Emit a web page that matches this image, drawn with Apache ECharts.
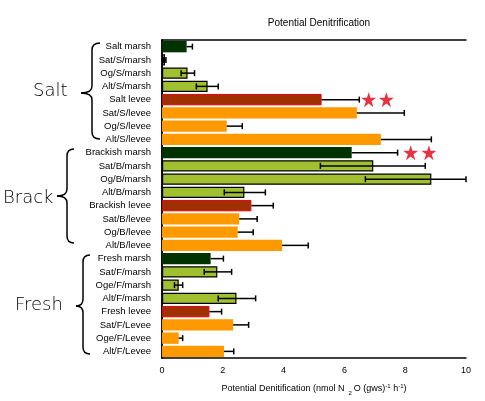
<!DOCTYPE html>
<html>
<head>
<meta charset="utf-8">
<script src="https://cdn.jsdelivr.net/npm/echarts@6/dist/echarts.min.js"></script>
<style>
  html, body { margin: 0; padding: 0; background: #fff; }
  #chart { width: 485px; height: 401px; }
</style>
</head>
<body>
<div id="chart"></div>
<script>
var categories = [
  'Salt marsh', 'Sat/S/marsh', 'Og/S/marsh', 'Alt/S/marsh',
  'Salt levee', 'Sat/S/levee', 'Og/S/levee', 'Alt/S/levee',
  'Brackish marsh', 'Sat/B/marsh', 'Og/B/marsh', 'Alt/B/marsh',
  'Brackish levee', 'Sat/B/levee', 'Og/B/levee', 'Alt/B/levee',
  'Fresh marsh', 'Sat/F/marsh', 'Oge/F/marsh', 'Alt/F/marsh',
  'Fresh levee', 'Sat/F/Levee', 'Oge/F/Levee', 'Alt/F/Levee'
];
var denitValues = [
  0.81, 0.10, 0.84, 1.50, 5.25, 6.41, 2.13, 7.20,
  6.24, 6.95, 8.86, 2.71, 2.94, 2.54, 2.49, 3.95,
  1.60, 1.82, 0.55, 2.45, 1.56, 2.34, 0.55, 2.04
];
var errLow = [
  0.81, 0.06, 0.63, 1.13, 5.25, 6.41, 2.13, 7.20,
  6.24, 5.21, 6.69, 2.05, 2.94, 2.54, 2.49, 3.95,
  1.60, 1.39, 0.41, 1.85, 1.56, 2.34, 0.55, 2.04
];
var errHigh = [
  1.00, 0.13, 1.07, 1.85, 6.49, 7.97, 2.64, 8.86,
  7.75, 8.66, 10.0, 3.40, 3.66, 3.13, 3.00, 4.81,
  2.02, 2.29, 0.68, 3.08, 1.96, 2.85, 0.68, 2.36
];
var starX = [6.80, 7.38, 8.18, 8.78];
var starCat = ['Salt levee', 'Salt levee', 'Brackish marsh', 'Brackish marsh'];
var groupNames = ['Salt', 'Brack', 'Fresh'];

var DARK = '#003300', GREEN = '#a0c030', BROWN = '#a03000', ORANGE = '#ff9900';

function barStyle(name) {
  var main = /^(Salt|Brackish|Fresh) /.test(name);
  var marsh = /marsh/i.test(name);
  if (main && marsh) return { color: DARK };
  if (main) return { color: BROWN, borderColor: '#e00010', borderWidth: 1 };
  if (marsh) return { color: GREEN, borderColor: '#000', borderWidth: 1.2 };
  return { color: ORANGE };
}

var barData = denitValues.map(function (v, i) {
  return { value: v, itemStyle: barStyle(categories[i]) };
});
var errData = categories.map(function (c, i) {
  return [i, errLow[i], errHigh[i], denitValues[i]];
});
var starData = starX.map(function (x, i) { return [x, starCat[i]]; });

var chart = echarts.init(document.getElementById('chart'), null, { renderer: 'canvas' });
var font = 'Liberation Sans';

// curly brace: hooks at (x0,y0) and (x0,y1), spine at xv, tip at (xt,ym)
function brace(x0, xv, xt, y0, ym, y1) {
  var r = 7;
  var st = { stroke: '#000', lineWidth: 1.5, fill: null };
  return {
    type: 'group',
    children: [
      { type: 'bezierCurve', shape: { x1: x0, y1: y0, cpx1: xv, cpy1: y0, x2: xv, y2: y0 + r }, style: st },
      { type: 'line', shape: { x1: xv, y1: y0 + r, x2: xv, y2: ym - r }, style: st },
      { type: 'bezierCurve', shape: { x1: xv, y1: ym - r, cpx1: xv, cpy1: ym, x2: xt, y2: ym }, style: st },
      { type: 'bezierCurve', shape: { x1: xt, y1: ym, cpx1: xv, cpy1: ym, x2: xv, y2: ym + r }, style: st },
      { type: 'line', shape: { x1: xv, y1: ym + r, x2: xv, y2: y1 - r }, style: st },
      { type: 'bezierCurve', shape: { x1: xv, y1: y1 - r, cpx1: xv, cpy1: y1, x2: x0, y2: y1 }, style: st }
    ]
  };
}

function groupLabel(text, x, y) {
  return { type: 'text', left: x, top: y,
    style: { text: text, font: '200 18px "DejaVu Sans"', fill: '#000' } };
}

var option = {
  backgroundColor: '#fff',
  animation: false,
  title: {
    text: 'Potential Denitrification',
    left: 314, top: 13, textAlign: 'center',
    textStyle: { fontFamily: font, fontSize: 10, fontWeight: 'normal', color: '#000' }
  },
  grid: { left: 162, right: 19, top: 40, bottom: 43 },
  xAxis: [{
    type: 'value', min: 0, max: 10, interval: 2,
    name: '{t|Potential Denitification (nmol N}{sub|2}{t|O (gws)}{sup|-1}{t| h}{sup|-1}{t|)}',
    nameLocation: 'middle', nameGap: 24,
    nameTextStyle: {
      rich: {
        t: { fontFamily: font, fontSize: 9, color: '#000' },
        sub: { fontFamily: font, fontSize: 6, color: '#000', padding: [8, 2, 0, 4] },
        sup: { fontFamily: font, fontSize: 6, color: '#000', padding: [0, 0, 6, 0] }
      }
    },
    axisLine: { show: true, lineStyle: { color: '#000', width: 1.5 } },
    axisTick: { inside: true, length: 4, lineStyle: { color: '#000', width: 1.5 } },
    axisLabel: { fontFamily: font, fontSize: 9, color: '#000', margin: 8 },
    splitLine: { show: false }
  }, {
    type: 'value', min: 0, max: 10, interval: 2, position: 'top',
    axisLine: { show: true, lineStyle: { color: '#000', width: 1.5 } },
    axisTick: { inside: true, length: 4, lineStyle: { color: '#000', width: 1.5 } },
    axisLabel: { show: false },
    splitLine: { show: false }
  }],
  yAxis: [{
    type: 'category', data: categories, inverse: true,
    axisLine: { show: true, lineStyle: { color: '#000', width: 1.5 } },
    axisTick: { inside: true, length: 4, lineStyle: { color: '#000', width: 1.5 } },
    axisLabel: { fontFamily: font, fontSize: 9.5, color: '#000', margin: 11 }
  }, {
    type: 'category', data: categories, inverse: true, position: 'right',
    axisLine: { show: true, lineStyle: { color: '#000', width: 1.5 } },
    axisTick: { inside: true, length: 4, lineStyle: { color: '#000', width: 1.5 } },
    axisLabel: { show: false }
  }],
  series: [{
    type: 'bar', data: barData, barCategoryGap: '14%', z: 2
  }, {
    type: 'custom', data: errData, z: 3,
    encode: { x: [1, 2], y: 0 },
    renderItem: function (params, api) {
      var lo = api.coord([api.value(1), api.value(0)]);
      var hi = api.coord([api.value(2), api.value(0)]);
      var h = 3;
      var children = [{
        type: 'line', shape: { x1: lo[0], y1: lo[1], x2: hi[0], y2: hi[1] },
        style: { stroke: '#000', lineWidth: 1.5 }
      }, {
        type: 'line', shape: { x1: hi[0], y1: hi[1] - h, x2: hi[0], y2: hi[1] + h },
        style: { stroke: '#000', lineWidth: 1.5 }
      }];
      if (api.value(1) < api.value(3)) {
        children.push({
          type: 'line', shape: { x1: lo[0], y1: lo[1] - h, x2: lo[0], y2: lo[1] + h },
          style: { stroke: '#000', lineWidth: 1.5 }
        });
      }
      return { type: 'group', children: children };
    }
  }, {
    type: 'scatter', data: starData, z: 4,
    symbol: 'path://M50,0 L61.8,35.5 L100,35.5 L69.1,57.5 L80.9,93.5 L50,71.5 L19.1,93.5 L30.9,57.5 L0,35.5 L38.2,35.5 Z',
    symbolSize: 15,
    itemStyle: { color: '#e00010' }
  }],
  graphic: [
    brace(100, 92, 81, 43, 93, 139),
    brace(74, 67, 57, 149, 196, 243),
    brace(90, 83, 76, 255, 306, 354),
    groupLabel(groupNames[0], 33, 82),
    groupLabel(groupNames[1], 3, 189),
    groupLabel(groupNames[2], 15, 296)
  ]
};
chart.setOption(option);
</script>
</body>
</html>
